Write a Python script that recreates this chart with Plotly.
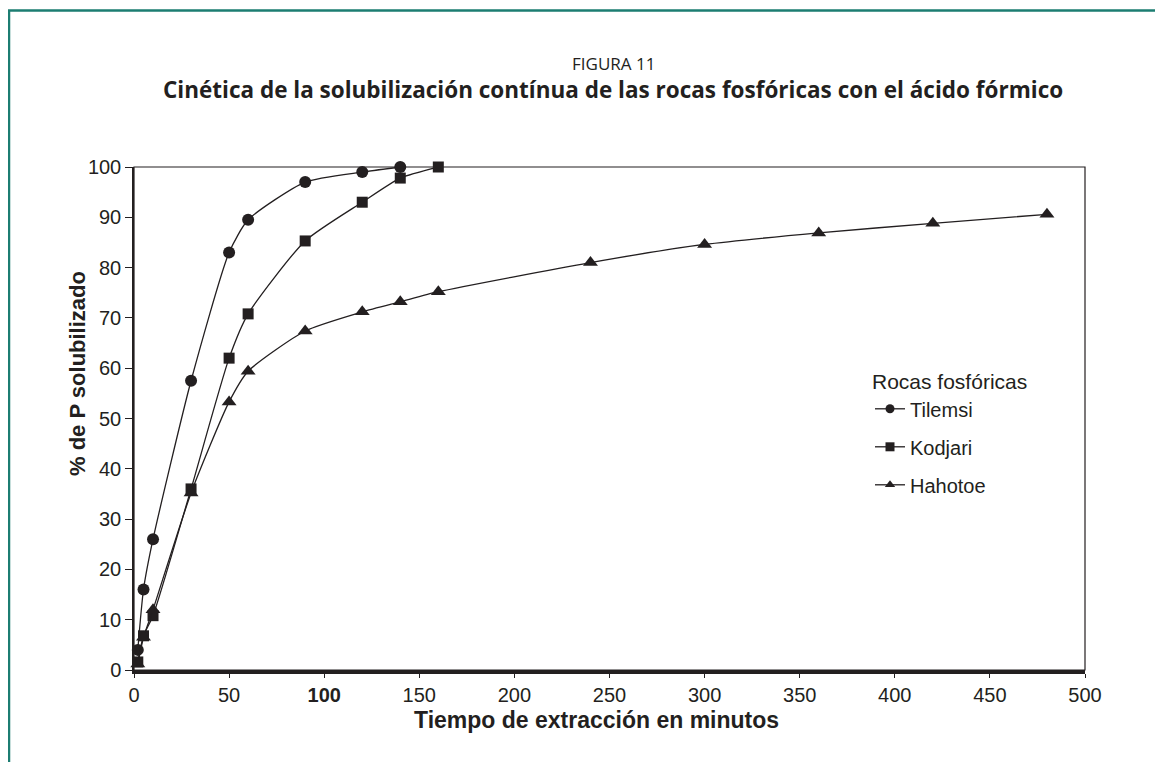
import plotly.graph_objects as go

# ---- data ----
tilemsi_x = [2, 5, 10, 30, 50, 60, 90, 120, 140]
tilemsi_y = [4.0, 16.0, 26.0, 57.5, 83.0, 89.5, 97.0, 99.0, 100.0]

kodjari_x = [2, 5, 10, 30, 50, 60, 90, 120, 140, 160]
kodjari_y = [1.6, 6.8, 10.8, 36.0, 62.0, 70.8, 85.3, 93.0, 97.8, 100.0]

hahotoe_x = [2, 5, 10, 30, 50, 60, 90, 120, 140, 160, 240, 300, 360, 420, 480]
hahotoe_y = [1.2, 6.5, 12.0, 35.2, 53.3, 59.4, 67.4, 71.2, 73.2, 75.2, 81.0, 84.6, 86.9, 88.8, 90.6]

series_names = ["Tilemsi", "Kodjari", "Hahotoe"]
x_ticks = [0, 50, 100, 150, 200, 250, 300, 350, 400, 450, 500]
x_ticktext = ["0", "50", "<b>100</b>", "150", "200", "250", "300", "350", "400", "450", "500"]
y_ticks = [0, 10, 20, 30, 40, 50, 60, 70, 80, 90, 100]

INK = "#231f20"
TEAL = "#1c7d72"
AX_FONT = "Liberation Sans, Arial, sans-serif"
TITLE_FONT = "Open Sans, Noto Sans, sans-serif"

fig = go.Figure()

symbols = ["circle", "square", "triangle-up"]
sizes = [12, 11, 13]
data = [(tilemsi_x, tilemsi_y), (kodjari_x, kodjari_y), (hahotoe_x, hahotoe_y)]

for (xs, ys), sym, sz, nm in zip(data, symbols, sizes, series_names):
    fig.add_trace(go.Scatter(
        x=xs, y=ys, mode="lines+markers", name=nm, showlegend=False,
        line=dict(color=INK, width=1.3, shape="spline", smoothing=0.6),
        marker=dict(symbol=sym, size=sz, color=INK),
        cliponaxis=False,
    ))

legend_labels = [
    '<span style="font-family:Liberation Sans Narrow, Arial Narrow, sans-serif">Tilemsi</span>',
    "Kodjari",
    "Hahotoe",
]
for sym, nm, lab in zip(symbols, series_names, legend_labels):
    fig.add_trace(go.Scatter(
        x=[None], y=[None], mode="lines+markers", name=lab, legendgroup=nm,
        line=dict(color=INK, width=1.3),
        marker=dict(symbol=sym, size=9, color=INK),
    ))

# page has an 8px body margin: work in page pixels and convert
OFF = 8
W, H = 1163 - OFF, 762 - OFF
PL, PR, PT, PB = 134, 1085, 167, 670      # plot box in page pixels
L, T = PL - OFF, PT - OFF
R = W - (PR - OFF)
B = H - (PB - OFF)
pw, ph = PR - PL, PB - PT

def px_x(px):
    return (px - PL) / pw

def px_y(py):
    return (PB - py) / ph

fig.update_layout(
    width=W, height=H,
    margin=dict(l=L, r=R, t=T, b=B),
    paper_bgcolor="white", plot_bgcolor="white",
    font=dict(family=AX_FONT, color=INK),
    showlegend=True,
    legend=dict(
        x=px_x(870), y=px_y(362), xanchor="left", yanchor="top",
        bgcolor="rgba(0,0,0,0)",
        font=dict(size=20, family=AX_FONT, color=INK),
        title=dict(text="Rocas fosfóricas", font=dict(size=21, family=AX_FONT, color=INK)),
        tracegroupgap=9,
        itemwidth=30,
    ),
    xaxis=dict(
        range=[0, 500], tickvals=x_ticks, ticktext=x_ticktext,
        showline=True, linecolor=INK, linewidth=3.5,
        ticks="outside", ticklen=4, tickcolor=INK, tickwidth=1,
        showgrid=False, zeroline=False,
        tickfont=dict(size=20, family=AX_FONT, color=INK),
    ),
    yaxis=dict(
        range=[0, 100], tickvals=y_ticks,
        showline=True, linecolor=INK, linewidth=1.5,
        ticks="outside", ticklen=7, tickcolor=INK, tickwidth=1,
        showgrid=False, zeroline=False,
        tickfont=dict(size=20, family=AX_FONT, color=INK),
    ),
    shapes=[
        # plot box (top and right edges)
        dict(type="rect", xref="paper", yref="paper", x0=0, y0=0, x1=1, y1=1,
             line=dict(color=INK, width=1.2), layer="below"),
        # teal page frame
        dict(type="path", xref="paper", yref="paper",
             path=f"M {px_x(9)} {px_y(775)} L {px_x(9)} {px_y(10.5)} L {px_x(1175)} {px_y(10.5)}",
             line=dict(color=TEAL, width=2.5)),
    ],
    annotations=[
        dict(text="FIGURA 11", xref="paper", yref="paper", x=px_x(613), y=px_y(64),
             showarrow=False, xanchor="center", yanchor="middle",
             font=dict(family=TITLE_FONT, size=17, color=INK)),
        dict(text="<b>Cinética de la solubilización contínua de las rocas fosfóricas con el ácido fórmico</b>",
             xref="paper", yref="paper", x=px_x(613), y=px_y(89),
             showarrow=False, xanchor="center", yanchor="middle",
             font=dict(family=TITLE_FONT, size=22.5, color=INK)),
        dict(text="<b>Tiempo de extracción en minutos</b>", xref="paper", yref="paper",
             x=px_x(596), y=px_y(720), showarrow=False, xanchor="center", yanchor="middle",
             font=dict(family=AX_FONT, size=23, color=INK)),
        dict(text="<b>% de P solubilizado</b>", xref="paper", yref="paper",
             x=px_x(77), y=px_y(374), showarrow=False, textangle=-90,
             xanchor="center", yanchor="middle",
             font=dict(family=AX_FONT, size=22, color=INK)),
    ],
)

fig.write_html("out.html")
